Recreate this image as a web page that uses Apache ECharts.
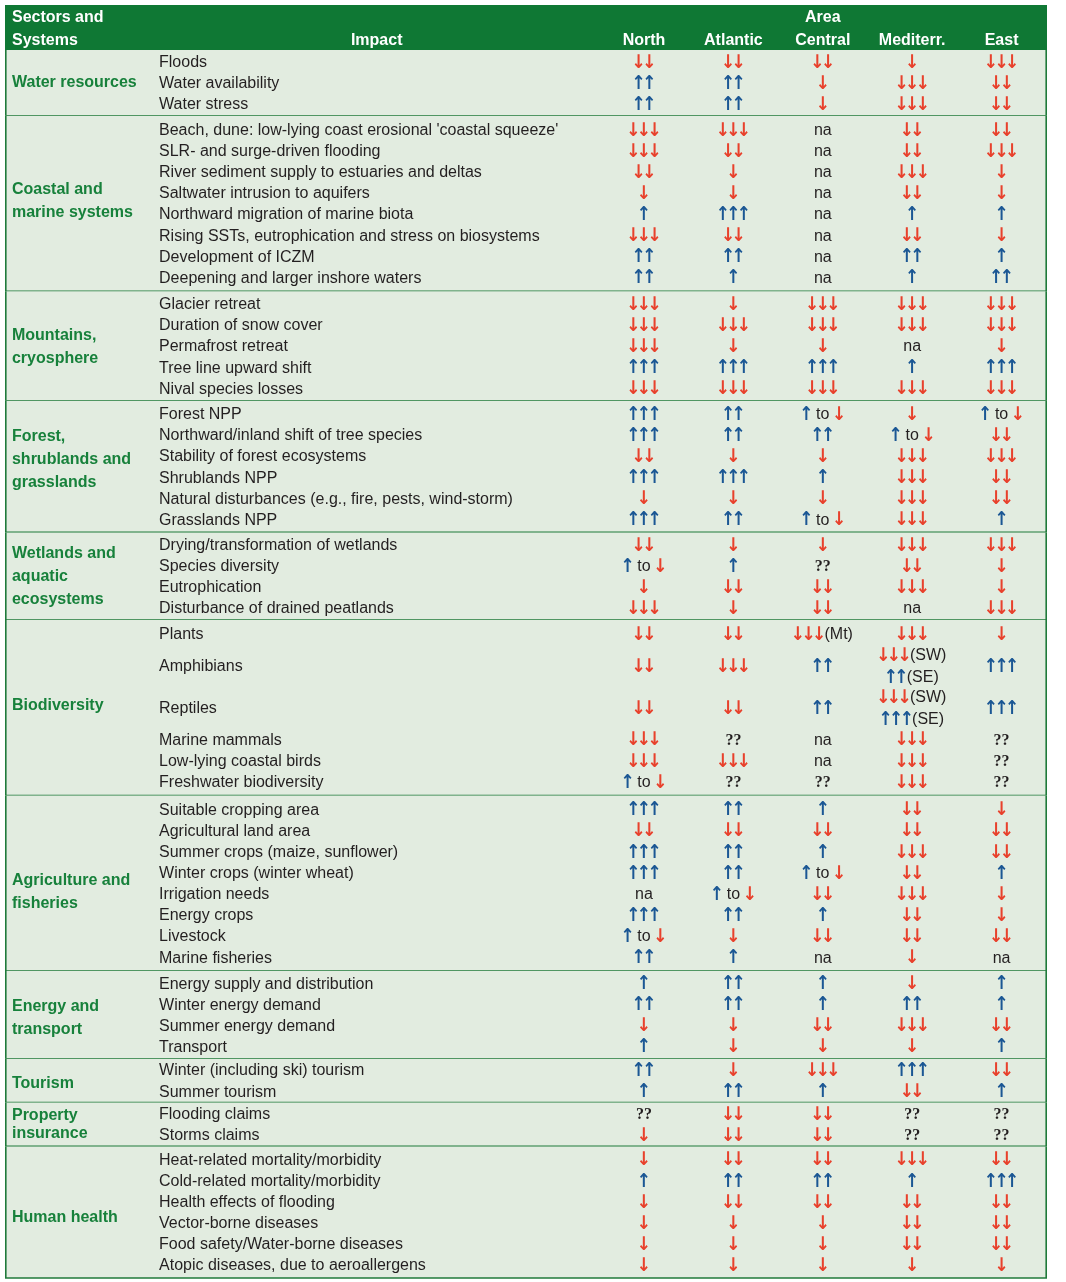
<!DOCTYPE html>
<html>
<head>
<meta charset="utf-8">
<script src="https://cdn.jsdelivr.net/npm/echarts@6/dist/echarts.min.js"></script>
<style>
html,body{margin:0;padding:0;background:#ffffff;}
#chart{width:1066px;height:1282px;}
</style>
</head>
<body>
<div id="chart"></div>
<script>
// ---------------- DATA ----------------
const headerSector = "Sectors and\nSystems";
const headerImpact = "Impact";
const headerArea = "Area";
const areas = ["North", "Atlantic", "Central", "Mediterr.", "East"];

const sectorLabels = [
  "Water resources",
  "Coastal and\nmarine systems",
  "Mountains,\ncryosphere",
  "Forest,\nshrublands and\ngrasslands",
  "Wetlands and\naquatic\necosystems",
  "Biodiversity",
  "Agriculture and\nfisheries",
  "Energy and\ntransport",
  "Tourism",
  "Property\ninsurance",
  "Human health"
];
const sectorRowCounts = [3, 8, 5, 6, 4, 6, 8, 4, 2, 2, 6];

const impacts = [
  "Floods", "Water availability", "Water stress",
  "Beach, dune: low-lying coast erosional 'coastal squeeze'", "SLR- and surge-driven flooding",
  "River sediment supply to estuaries and deltas", "Saltwater intrusion to aquifers",
  "Northward migration of marine biota", "Rising SSTs, eutrophication and stress on biosystems",
  "Development of ICZM", "Deepening and larger inshore waters",
  "Glacier retreat", "Duration of snow cover", "Permafrost retreat", "Tree line upward shift", "Nival species losses",
  "Forest NPP", "Northward/inland shift of tree species", "Stability of forest ecosystems", "Shrublands NPP",
  "Natural disturbances (e.g., fire, pests, wind-storm)", "Grasslands NPP",
  "Drying/transformation of wetlands", "Species diversity", "Eutrophication", "Disturbance of drained peatlands",
  "Plants", "Amphibians", "Reptiles", "Marine mammals", "Low-lying coastal birds", "Freshwater biodiversity",
  "Suitable cropping area", "Agricultural land area", "Summer crops (maize, sunflower)", "Winter crops (winter wheat)",
  "Irrigation needs", "Energy crops", "Livestock", "Marine fisheries",
  "Energy supply and distribution", "Winter energy demand", "Summer energy demand", "Transport",
  "Winter (including ski) tourism", "Summer tourism",
  "Flooding claims", "Storms claims",
  "Heat-related mortality/morbidity", "Cold-related mortality/morbidity", "Health effects of flooding",
  "Vector-borne diseases", "Food safety/Water-borne diseases", "Atopic diseases, due to aeroallergens"
];
const tallRows = ["Amphibians", "Reptiles"];

const north = [
  "↓↓", "↑↑", "↑↑",
  "↓↓↓", "↓↓↓", "↓↓", "↓", "↑", "↓↓↓", "↑↑", "↑↑",
  "↓↓↓", "↓↓↓", "↓↓↓", "↑↑↑", "↓↓↓",
  "↑↑↑", "↑↑↑", "↓↓", "↑↑↑", "↓", "↑↑↑",
  "↓↓", "↑ to ↓", "↓", "↓↓↓",
  "↓↓", "↓↓", "↓↓", "↓↓↓", "↓↓↓", "↑ to ↓",
  "↑↑↑", "↓↓", "↑↑↑", "↑↑↑", "na", "↑↑↑", "↑ to ↓", "↑↑",
  "↑", "↑↑", "↓", "↑",
  "↑↑", "↑",
  "??", "↓",
  "↓", "↑", "↓", "↓", "↓", "↓"
];
const atlantic = [
  "↓↓", "↑↑", "↑↑",
  "↓↓↓", "↓↓", "↓", "↓", "↑↑↑", "↓↓", "↑↑", "↑",
  "↓", "↓↓↓", "↓", "↑↑↑", "↓↓↓",
  "↑↑", "↑↑", "↓", "↑↑↑", "↓", "↑↑",
  "↓", "↑", "↓↓", "↓",
  "↓↓", "↓↓↓", "↓↓", "??", "↓↓↓", "??",
  "↑↑", "↓↓", "↑↑", "↑↑", "↑ to ↓", "↑↑", "↓", "↑",
  "↑↑", "↑↑", "↓", "↓",
  "↓", "↑↑",
  "↓↓", "↓↓",
  "↓↓", "↑↑", "↓↓", "↓", "↓", "↓"
];
const central = [
  "↓↓", "↓", "↓",
  "na", "na", "na", "na", "na", "na", "na", "na",
  "↓↓↓", "↓↓↓", "↓", "↑↑↑", "↓↓↓",
  "↑ to ↓", "↑↑", "↓", "↑", "↓", "↑ to ↓",
  "↓", "??", "↓↓", "↓↓",
  "↓↓↓(Mt)", "↑↑", "↑↑", "na", "na", "??",
  "↑", "↓↓", "↑", "↑ to ↓", "↓↓", "↑", "↓↓", "na",
  "↑", "↑", "↓↓", "↓",
  "↓↓↓", "↑",
  "↓↓", "↓↓",
  "↓↓", "↑↑", "↓↓", "↓", "↓", "↓"
];
const mediterr = [
  "↓", "↓↓↓", "↓↓↓",
  "↓↓", "↓↓", "↓↓↓", "↓↓", "↑", "↓↓", "↑↑", "↑",
  "↓↓↓", "↓↓↓", "na", "↑", "↓↓↓",
  "↓", "↑ to ↓", "↓↓↓", "↓↓↓", "↓↓↓", "↓↓↓",
  "↓↓↓", "↓↓", "↓↓↓", "na",
  "↓↓↓", "↓↓↓(SW)\n↑↑(SE)", "↓↓↓(SW)\n↑↑↑(SE)", "↓↓↓", "↓↓↓", "↓↓↓",
  "↓↓", "↓↓", "↓↓↓", "↓↓", "↓↓↓", "↓↓", "↓↓", "↓",
  "↓", "↑↑", "↓↓↓", "↓",
  "↑↑↑", "↓↓",
  "??", "??",
  "↓↓↓", "↑", "↓↓", "↓↓", "↓↓", "↓"
];
const east = [
  "↓↓↓", "↓↓", "↓↓",
  "↓↓", "↓↓↓", "↓", "↓", "↑", "↓", "↑", "↑↑",
  "↓↓↓", "↓↓↓", "↓", "↑↑↑", "↓↓↓",
  "↑ to ↓", "↓↓", "↓↓↓", "↓↓", "↓↓", "↑",
  "↓↓↓", "↓", "↓", "↓↓↓",
  "↓", "↑↑↑", "↑↑↑", "??", "??", "??",
  "↓", "↓↓", "↓↓", "↑", "↓", "↓", "↓↓", "na",
  "↑", "↑", "↓↓", "↑",
  "↓↓", "↑",
  "??", "??",
  "↓↓", "↑↑↑", "↓↓", "↓↓", "↓↓", "↓"
];
const areaColumns = [north, atlantic, central, mediterr, east];

// ---------------- LAYOUT / STYLE ----------------
const SANS = "'Liberation Sans', Arial, Helvetica, sans-serif";
const SERIF = "'Liberation Serif', 'Times New Roman', serif";
const ARROW_FONT = "'DejaVu Sans Condensed', 'DejaVu Sans', sans-serif";
const C = {
  header: '#0f7834',
  body: '#e2ece0',
  rule: '#1f7a3a',
  sector: '#17813b',
  ink: '#231f20',
  down: '#e8412c',
  up: '#1b5794'
};
const X_MIN = -6.148, X_MAX = 5.508;     // axis span in column units
const X_SECTOR = -6.07, X_IMPACT = -4.425, X_IMPACT_HEAD = -1.99;
const HEAD_UNITS = 2.05;
const HEAD_ROWS = [-1.46, -0.41];
const ROW_K = 0.962;                     // row spacing inside a sector block
const ARROW_PITCH = 10.6;
const ARROW_SIZE = 19;
const ARROW_DY = 0;
const LABEL_NUDGE = [0, -2, 1, -7, 0, -2, 9, 3, 3, 0, 5];
const LABEL_LH = [23, 23, 23, 23, 23, 23, 23, 23, 23, 18, 23];

// ---------------- DERIVED ROW POSITIONS ----------------
const rowCenters = [];
const sectorBounds = [];
(function () {
  let u = 0, r = 0;
  sectorRowCounts.forEach(function (n) {
    const spans = [];
    let units = 0;
    for (let k = 0; k < n; k++) {
      const sp = tallRows.indexOf(impacts[r + k]) >= 0 ? 2 : 1;
      spans.push(sp); units += sp;
    }
    let off = 0;
    spans.forEach(function (sp) {
      rowCenters.push(u + units / 2 + (off + sp / 2 - units / 2) * ROW_K);
      off += sp;
    });
    sectorBounds.push([u, u + units]);
    u += units; r += n;
  });
})();
const TOTAL_UNITS = sectorBounds[sectorBounds.length - 1][1];

// ---------------- TEXT MEASURE ----------------
const mctx = document.createElement('canvas').getContext('2d');
function measure(s, font) { mctx.font = font; return mctx.measureText(s).width; }
const F_TEXT = '16px ' + SANS;
const F_Q = 'bold 16px ' + SERIF;

function tokenize(line) {
  const toks = [];
  let i = 0;
  while (i < line.length) {
    const ch = line[i];
    if (ch === '↑' || ch === '↓') { toks.push({ k: ch === '↑' ? 'up' : 'down', s: ch }); i++; }
    else if (line.substr(i, 2) === '??') { toks.push({ k: 'q', s: '??' }); i += 2; }
    else {
      let j = i;
      while (j < line.length && line[j] !== '↑' && line[j] !== '↓' && line.substr(j, 2) !== '??') j++;
      toks.push({ k: 't', s: line.slice(i, j) }); i = j;
    }
  }
  toks.forEach(function (t) {
    t.w = (t.k === 'up' || t.k === 'down') ? ARROW_PITCH : measure(t.s, t.k === 'q' ? F_Q : F_TEXT);
  });
  return toks;
}

function textEl(s, x, y, opt) {
  return {
    type: 'text',
    style: Object.assign({
      text: s, x: x, y: y,
      fill: C.ink,
      fontSize: 16, fontFamily: SANS, fontWeight: 'normal',
      align: 'left', verticalAlign: 'middle'
    }, opt || {})
  };
}

// ---------------- SERIES DATA ----------------
const frameData = sectorBounds.map(function (b) { return [b[0], b[1]]; });
const sectorData = sectorBounds.map(function (b, i) { return [X_SECTOR, (b[0] + b[1]) / 2, i]; });
const impactData = impacts.map(function (s, i) { return [X_IMPACT, rowCenters[i], i]; });
const cellData = [];
areaColumns.forEach(function (col, c) {
  col.forEach(function (v, r) { cellData.push([c + 1, rowCenters[r], c, r]); });
});
const headData = [[0]];

const chart = echarts.init(document.getElementById('chart'), null, { renderer: 'canvas' });

const option = {
  animation: false,
  backgroundColor: '#ffffff',
  grid: { left: 5, right: 19, top: 5, bottom: 4, containLabel: false },
  xAxis: { type: 'value', min: X_MIN, max: X_MAX, show: false },
  yAxis: { type: 'value', min: -HEAD_UNITS, max: TOTAL_UNITS, inverse: true, show: false },
  series: [
    {
      type: 'custom', clip: false, silent: true, z: 1,
      data: frameData,
      renderItem: function (params, api) {
        const s = api.value(0), e = api.value(1);
        const p0 = api.coord([X_MIN, s]), p1 = api.coord([X_MAX, e]);
        const lineStyle = { stroke: C.rule, lineWidth: 1.6 };
        return {
          type: 'group',
          children: [
            { type: 'rect', shape: { x: p0[0], y: p0[1], width: p1[0] - p0[0], height: p1[1] - p0[1] }, style: { fill: C.body } },
            { type: 'line', shape: { x1: p0[0], y1: p1[1], x2: p1[0], y2: p1[1] }, style: lineStyle },
            { type: 'line', shape: { x1: p0[0] + 0.8, y1: p0[1], x2: p0[0] + 0.8, y2: p1[1] }, style: lineStyle },
            { type: 'line', shape: { x1: p1[0] - 0.8, y1: p0[1], x2: p1[0] - 0.8, y2: p1[1] }, style: lineStyle }
          ]
        };
      }
    },
    {
      type: 'custom', clip: false, silent: true, z: 2,
      data: headData,
      renderItem: function (params, api) {
        const p0 = api.coord([X_MIN, -HEAD_UNITS]), p1 = api.coord([X_MAX, 0]);
        const white = { fill: '#ffffff', fontWeight: 'bold' };
        const children = [
          { type: 'rect', shape: { x: p0[0], y: p0[1], width: p1[0] - p0[0], height: p1[1] - p0[1] }, style: { fill: C.header } }
        ];
        headerSector.split('\n').forEach(function (t, i) {
          const p = api.coord([X_SECTOR, HEAD_ROWS[i]]);
          children.push(textEl(t, p[0], p[1], white));
        });
        const pi = api.coord([X_IMPACT_HEAD, HEAD_ROWS[1]]);
        children.push(textEl(headerImpact, pi[0], pi[1], Object.assign({ align: 'center' }, white)));
        const pa = api.coord([3, HEAD_ROWS[0]]);
        children.push(textEl(headerArea, pa[0], pa[1], Object.assign({ align: 'center' }, white)));
        areas.forEach(function (a, i) {
          const p = api.coord([i + 1, HEAD_ROWS[1]]);
          children.push(textEl(a, p[0], p[1], Object.assign({ align: 'center' }, white)));
        });
        return { type: 'group', children: children };
      }
    },
    {
      type: 'custom', clip: false, silent: true, z: 3,
      data: sectorData,
      renderItem: function (params, api) {
        const i = api.value(2);
        const p = api.coord([api.value(0), api.value(1)]);
        return textEl(sectorLabels[i], p[0], p[1] + LABEL_NUDGE[i], { fill: C.sector, fontWeight: 'bold', lineHeight: LABEL_LH[i] });
      }
    },
    {
      type: 'custom', clip: false, silent: true, z: 3,
      data: impactData,
      renderItem: function (params, api) {
        const p = api.coord([api.value(0), api.value(1)]);
        return textEl(impacts[api.value(2)], p[0], p[1] + 1);
      }
    },
    {
      type: 'custom', clip: false, silent: true, z: 3,
      data: cellData,
      renderItem: function (params, api) {
        const p = api.coord([api.value(0), api.value(1)]);
        const str = areaColumns[api.value(2)][api.value(3)];
        const lines = str.split('\n');
        const children = [];
        lines.forEach(function (line, li) {
          const y = p[1] + 1 + (li - (lines.length - 1) / 2) * 22;
          const toks = tokenize(line);
          const total = toks.reduce(function (a, t) { return a + t.w; }, 0);
          let x = p[0] - total / 2;
          toks.forEach(function (t) {
            if (t.k === 'up' || t.k === 'down') {
              children.push(textEl(t.s, x + t.w / 2, y + ARROW_DY, {
                align: 'center', fill: t.k === 'up' ? C.up : C.down,
                fontWeight: 'bold', fontSize: ARROW_SIZE, fontFamily: ARROW_FONT
              }));
            } else if (t.k === 'q') {
              children.push(textEl(t.s, x, y, { fontFamily: SERIF, fontWeight: 'bold' }));
            } else {
              children.push(textEl(t.s, x, y));
            }
            x += t.w;
          });
        });
        return { type: 'group', children: children };
      }
    }
  ]
};
chart.setOption(option);
</script>
</body>
</html>
